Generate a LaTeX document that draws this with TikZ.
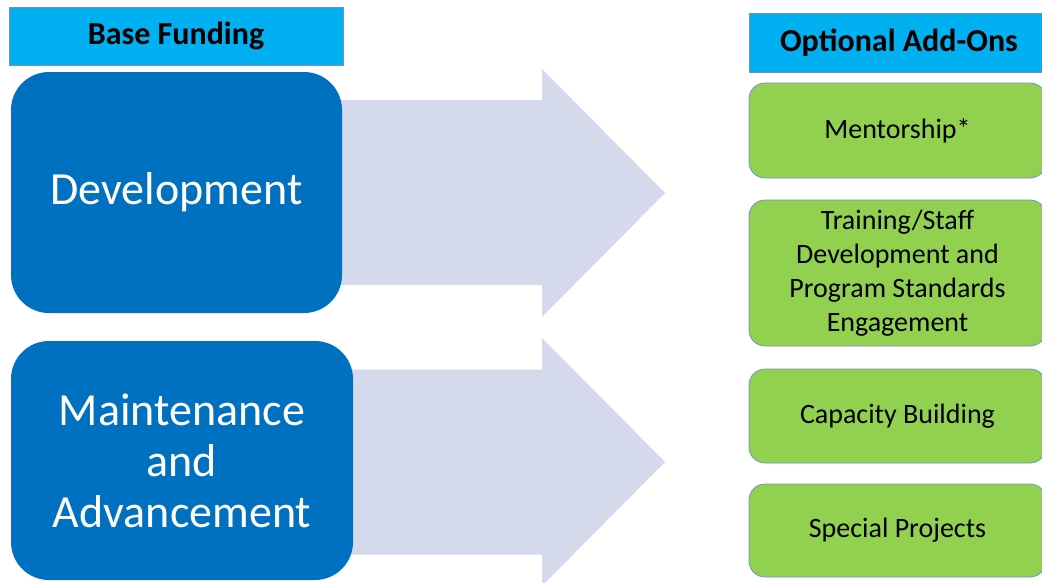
\documentclass[tikz,border=0pt]{standalone}
\usepackage{fontspec}
\setmainfont{Carlito}
\definecolor{headblue}{RGB}{0,176,240}
\definecolor{boxblue}{RGB}{0,112,192}
\definecolor{addgreen}{RGB}{146,208,80}
\definecolor{edgeblue}{RGB}{114,146,200}
\definecolor{arrowgrey}{RGB}{213,217,236}
\begin{document}
\begin{tikzpicture}[x=1pt,y=-1pt,
  header/.style={draw=edgeblue, line width=0.8pt, fill=headblue,
    font=\fontsize{32}{38}\selectfont\bfseries, inner sep=0pt},
  basebox/.style={fill=boxblue, text=white, rounded corners=38pt, align=center,
    inner sep=0pt, font=\fontsize{46}{51}\selectfont},
  addon/.style={draw=edgeblue, line width=0.8pt, fill=addgreen, rounded corners=16pt,
    minimum width=297pt, align=center, inner sep=0pt,
    font=\fontsize{28}{34}\selectfont},
  flow/.style={fill=arrowgrey}
]
\useasboundingbox (0,0) rectangle (1042,582);
\clip (0,0) rectangle (1042,582);
\fill[white] (0,0) rectangle (1042,582);

% block arrows from the base funding boxes towards the add-ons
\fill[flow] (330,100) -- (542,100) -- (542,69) -- (665,193) -- (542,317)
  -- (542,285) -- (330,285) -- cycle;
\fill[flow] (341,369.5) -- (542,369.5) -- (542,338) -- (665,462) -- (542,586)
  -- (542,554.5) -- (341,554.5) -- cycle;

% base funding column
\node[header, minimum width=334pt, minimum height=58pt] (basehead) at (176,36) {Base Funding};
\node[basebox, minimum width=331pt, minimum height=241pt] (dev) at (176.5,192.5) {Development};
\node[basebox, minimum width=342pt, minimum height=239pt] (maint) at (182,460.5)
  {Maintenance\\and\\Advancement};

% optional add-ons column
\node[header, minimum width=300pt, minimum height=59pt] (addhead) at (899,42.5) {Optional Add-Ons};
\node[addon, minimum height=95pt] (mentor) at (897.5,130.5) {Mentorship*};
\node[addon, minimum height=146pt] (train) at (897.5,273)
  {Training/Staff\\Development and\\Program Standards\\Engagement};
\node[addon, minimum height=94pt] (capacity) at (897.5,416) {Capacity Building};
\node[addon, minimum height=93pt] (special) at (897.5,530.5) {Special Projects};
\end{tikzpicture}
\end{document}
